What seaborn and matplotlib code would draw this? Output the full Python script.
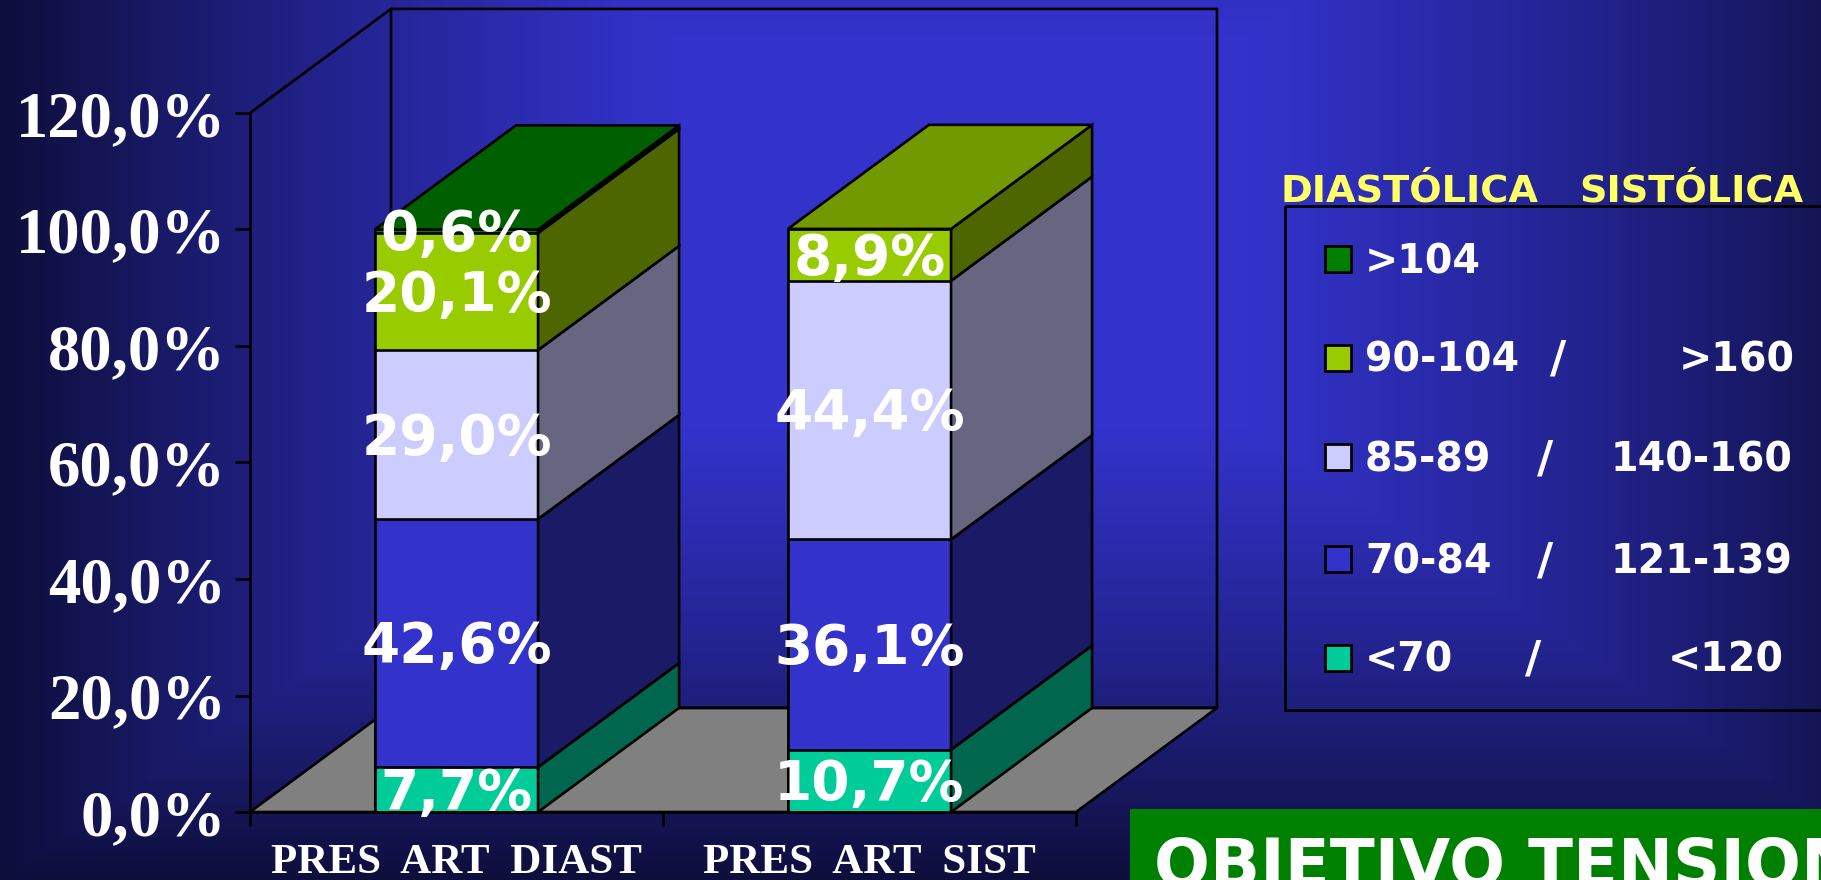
import numpy as np
import pandas as pd
import matplotlib
matplotlib.use("Agg")
import matplotlib.pyplot as plt
from matplotlib.colors import to_rgb, LinearSegmentedColormap
from matplotlib.patches import Rectangle
import seaborn as sns

categorias = ["PRES  ART  DIAST", "PRES  ART  SIST"]
rangos = ["<70", "70-84", "85-89", "90-104", ">104"]
diastolica = [7.7, 42.6, 29.0, 20.1, 0.6]
sistolica = [10.7, 36.1, 44.4, 8.9, 0.0]
colores = ["#00cc99", "#3333cc", "#ccccff", "#99cc00", "#008000"]
ticks_y = [0, 20, 40, 60, 80, 100, 120]

leyenda_diast = [">104", "90-104", "85-89", "70-84", "<70"]
leyenda_sist = ["", ">160", "140-160", "121-139", "<120"]
colores_leyenda = ["#008000", "#99cc00", "#ccccff", "#3333cc", "#00cc99"]

W, H = 1821, 880
SANS = "DejaVu Sans"
SERIF = "Liberation Serif"
NEGRO = "black"
LW = 1.9

# profundidad 3D en unidades de datos
DX = 0.3414
DY = 17.87
ANCHO = 0.395


def oscuro(color, f):
    return tuple(c * f for c in to_rgb(color))


sns.set_style("white")
plt.rcParams["font.family"] = [SANS]

fig = plt.figure(figsize=(W / 100, H / 100), dpi=100)

# fondo con degradado rectangular desde el centro
fondo = fig.add_axes([0, 0, 1, 1], zorder=0)
xx, yy = np.meshgrid(np.arange(W), np.arange(H))
t = np.maximum(np.abs(xx - 960) / 960, np.abs(yy - 230) / 650)
cmap = LinearSegmentedColormap.from_list(
    "fondo", [(0, "#3333cc"), (0.3, "#3333cc"), (0.65, "#23238f"), (0.85, "#181862"), (1, "#0e0e3c")])
fondo.imshow(t, cmap=cmap, vmin=0, vmax=1, extent=(0, W, H, 0), aspect="auto")
fondo.set_xlim(0, W)
fondo.set_ylim(H, 0)
fondo.axis("off")

# eje principal
ax = fig.add_axes([250 / W, 1 - 812 / H, 826 / W, 699 / H], zorder=1)
ax.patch.set_alpha(0)

filas = []
for cat, valores in zip(categorias, [diastolica, sistolica]):
    acum = np.cumsum(valores)
    for rango, v, a in zip(rangos, valores, acum):
        if v > 0:
            filas.append({"categoria": cat, "rango": rango, "acum": a})
df = pd.DataFrame(filas)

# del mas alto al mas bajo para que cada tramo tape al anterior
sns.barplot(
    data=df, x="categoria", y="acum", hue="rango",
    hue_order=rangos[::-1], palette=dict(zip(rangos, colores)),
    order=categorias, dodge=False, width=ANCHO, saturation=1,
    edgecolor=NEGRO, linewidth=LW, legend=False, ax=ax,
)

ax.set_xlim(-0.5, 1.5)
ax.set_ylim(0, 120)
ax.set_xlabel("")
ax.set_ylabel("")

# suelo y paredes
x0, x1 = -0.5, 1.5
ax.fill([x0, x0 + DX, x1 + DX, x1], [0, DY, DY, 0], facecolor="#808080",
        edgecolor=NEGRO, lw=LW, clip_on=False, zorder=0.4)
ax.plot([x0, x0 + DX, x1 + DX, x1 + DX, x0 + DX, x0 + DX],
        [120, 120 + DY, 120 + DY, DY, DY, 120 + DY],
        color=NEGRO, lw=LW, clip_on=False, zorder=0.5)

# caras laterales, tapa y etiquetas de cada barra
for i, valores in enumerate([diastolica, sistolica]):
    izq, der = i - ANCHO / 2, i + ANCHO / 2
    base = 0
    ultimo = None
    for v, col in zip(valores, colores):
        if v <= 0:
            continue
        tope = base + v
        ax.fill([der, der + DX, der + DX, der], [base, base + DY, tope + DY, tope],
                facecolor=oscuro(col, 0.5), edgecolor=NEGRO, lw=LW, clip_on=False, zorder=1.5)
        ax.annotate(f"{v:.1f}%".replace(".", ","), xy=(i, base + v / 2), xytext=(0, -13.7),
                    textcoords="offset points", ha="center", va="baseline",
                    color="white", fontsize=39.5, fontweight="bold", zorder=5,
                    annotation_clip=False)
        base = tope
        ultimo = col
    ax.fill([izq, izq + DX, der + DX, der], [base, base + DY, base + DY, base],
            facecolor=oscuro(ultimo, 0.75), edgecolor=NEGRO, lw=LW, clip_on=False, zorder=1.5)

sns.despine(ax=ax, top=True, right=True)
for lado in ["left", "bottom"]:
    ax.spines[lado].set_linewidth(LW)
    ax.spines[lado].set_color(NEGRO)

ax.set_yticks(ticks_y)
ax.set_yticklabels([f"{v:.1f}%".replace(".", ",") for v in ticks_y],
                   fontfamily=SERIF, fontweight="bold", fontsize=46.5, color="white")
ax.tick_params(axis="y", length=10.8, width=LW, color=NEGRO, pad=6.5, left=True)
ax.set_xticks([-0.5, 0.5, 1.5])
ax.set_xticklabels([])
ax.set_xticks([0, 1], categorias, minor=True, fontfamily=SERIF, fontweight="bold",
              fontsize=31, color="white")
ax.tick_params(axis="x", which="major", length=10, width=LW, color=NEGRO, bottom=True)
ax.tick_params(axis="x", which="minor", length=0, pad=23)

# leyenda
fondo.add_patch(Rectangle((1285, 206.5), 600, 503.5, fill=False, edgecolor=NEGRO, lw=2))
fondo.text(1280, 201, "DIASTÓLICA", color="#ffff66", fontsize=27.5, fontweight="bold", va="baseline")
fondo.text(1803, 201, "SISTÓLICA", color="#ffff66", fontsize=27.5, fontweight="bold", va="baseline", ha="right")

ys = [259, 358, 457, 559, 658]
barras = [None, 1558, 1545, 1545, 1533]
fines = [None, 1795, 1792, 1792, 1784]
for y, d, s, col, bx, fin in zip(ys, leyenda_diast, leyenda_sist, colores_leyenda, barras, fines):
    fondo.add_patch(Rectangle((1324.5, y - 13), 26, 26, facecolor=col, edgecolor=NEGRO, lw=2))
    fondo.text(1365, y + 14, d, color="white", fontsize=28.5, fontweight="bold", va="baseline")
    if s:
        fondo.text(bx, y + 15, "/", color="white", fontsize=32, fontweight="bold", va="baseline", ha="center")
        fondo.text(fin, y + 14, s, color="white", fontsize=28.5, fontweight="bold", va="baseline", ha="right")

# banner inferior
fondo.add_patch(Rectangle((1130, 809), 800, 80, facecolor="#008000", edgecolor="none"))
fondo.text(1154, 886, "OBJETIVO TENSIONAL", color="white", fontsize=47.4, fontweight="bold",
           va="baseline", clip_on=True)

fig.savefig("out.png", dpi=100)
